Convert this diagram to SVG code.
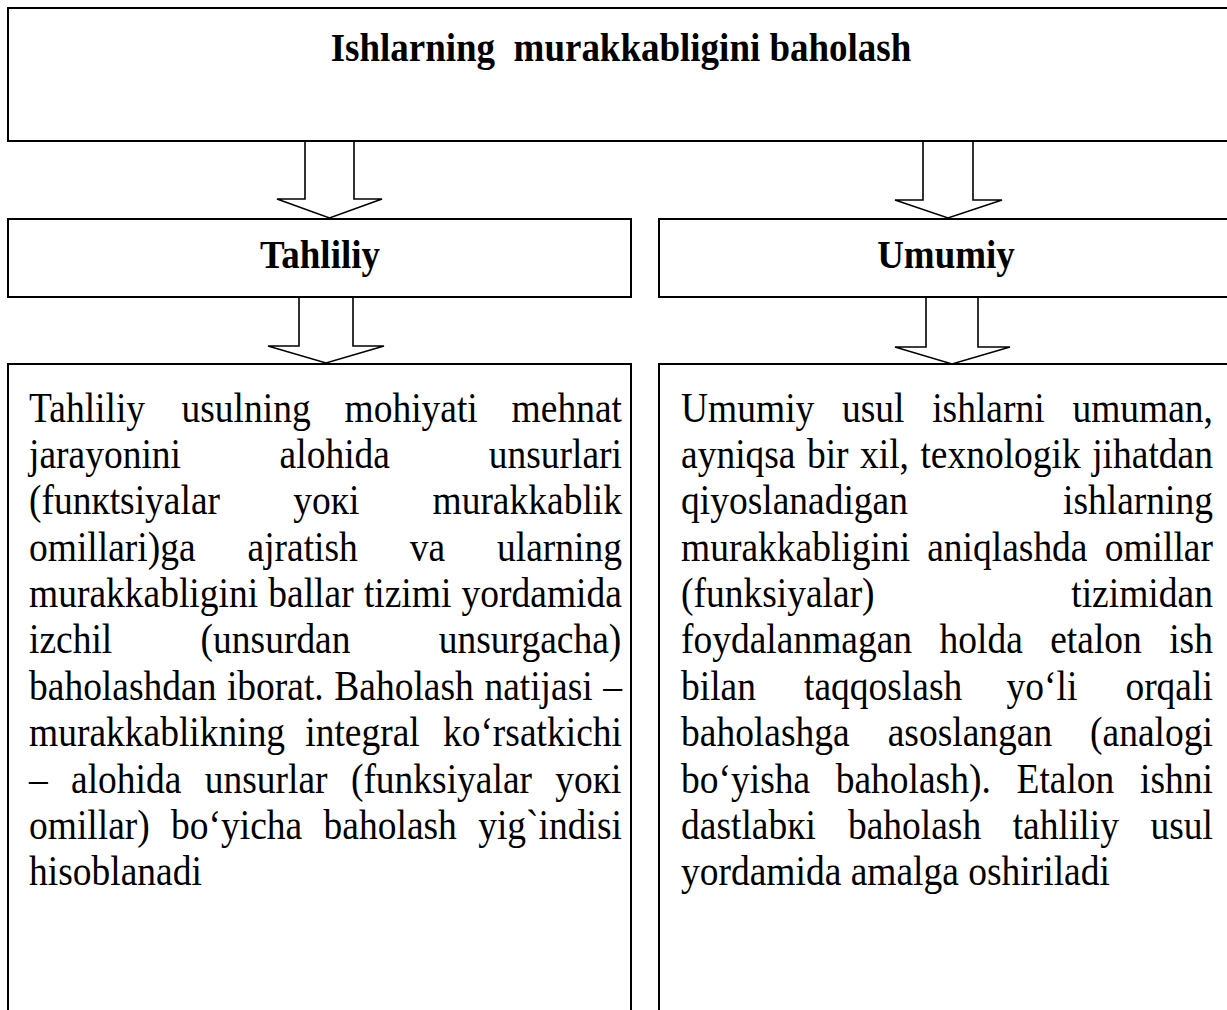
<svg xmlns="http://www.w3.org/2000/svg" width="1227" height="1010" viewBox="0 0 1227 1010">
  <style>
    .box { fill: #ffffff; stroke: #000000; stroke-width: 2; }
    .arrow { fill: #ffffff; stroke: #000000; stroke-width: 1.6; stroke-linejoin: miter; }
    .head { font-family: "Liberation Serif", "Times New Roman", serif; font-weight: bold; font-size: 37px; fill: #000000; }
    .body { font-family: "Liberation Serif", "Times New Roman", serif; font-size: 37.5px; fill: #000000; }
  </style>
  <rect width="1227" height="1010" fill="#ffffff"/>

  <!-- top node; text is drawn slightly condensed (taller than wide) via a vertical scale -->
  <g id="node-root">
    <rect class="box" x="8" y="8" width="1232" height="133"/>
    <text class="head" transform="scale(1,1.1)" x="621" y="55.6" text-anchor="middle" style="white-space:pre">Ishlarning  murakkabligini baholash</text>
  </g>

  <!-- method headers -->
  <g id="node-tahliliy">
    <rect class="box" x="8" y="219" width="623" height="78"/>
    <text class="head" transform="scale(1,1.1)" x="320" y="243.8" text-anchor="middle">Tahliliy</text>
  </g>
  <g id="node-umumiy">
    <rect class="box" x="659" y="219" width="582" height="78"/>
    <text class="head" transform="scale(1,1.1)" x="946" y="243.8" text-anchor="middle">Umumiy</text>
  </g>

  <!-- description of the analytical method (justified lines) -->
  <g id="node-tahliliy-text">
    <rect class="box" x="8" y="364" width="623" height="660"/>
    <text class="body" transform="scale(1,1.1)">
      <tspan x="29" y="383.2">Tahliliy</tspan><tspan x="181.5" y="383.2">usulning</tspan><tspan x="344.5" y="383.2">mohiyati</tspan><tspan x="511.6" y="383.2">mehnat</tspan>
      <tspan x="29" y="425.4">jarayonini</tspan><tspan x="279.6" y="425.4">alohida</tspan><tspan x="488.7" y="425.4">unsurlari</tspan>
      <tspan x="29" y="467.6">(funкtsiyalar</tspan><tspan x="293.2" y="467.6">yoкi</tspan><tspan x="432.5" y="467.6">murakkablik</tspan>
      <tspan x="29" y="509.8">omillari)ga</tspan><tspan x="247.5" y="509.8">ajratish</tspan><tspan x="409.8" y="509.8">va</tspan><tspan x="497" y="509.8">ularning</tspan>
      <tspan x="29" y="552">murakkabligini</tspan><tspan x="268.3" y="552">ballar</tspan><tspan x="363.9" y="552">tizimi</tspan><tspan x="461.6" y="552">yordamida</tspan>
      <tspan x="29" y="594.1">izchil</tspan><tspan x="200.6" y="594.1">(unsurdan</tspan><tspan x="438.8" y="594.1">unsurgacha)</tspan>
      <tspan x="29" y="636.3">baholashdan</tspan><tspan x="226.9" y="636.3">iborat.</tspan><tspan x="334.3" y="636.3">Baholash</tspan><tspan x="484.4" y="636.3">natijasi</tspan><tspan x="603.2" y="636.3">–</tspan>
      <tspan x="29" y="678.5">murakkablikning</tspan><tspan x="305.3" y="678.5">integral</tspan><tspan x="442.9" y="678.5">ko‘rsatkichi</tspan>
      <tspan x="29" y="720.7">–</tspan><tspan x="71" y="720.7">alohida</tspan><tspan x="204.7" y="720.7">unsurlar</tspan><tspan x="350.9" y="720.7">(funksiyalar</tspan><tspan x="555.3" y="720.7">yoкi</tspan>
      <tspan x="29" y="762.9">omillar)</tspan><tspan x="171.1" y="762.9">bo‘yicha</tspan><tspan x="323.6" y="762.9">baholash</tspan><tspan x="478.2" y="762.9">yig`indisi</tspan>
      <tspan x="29" y="805">hisoblanadi</tspan>
    </text>
  </g>

  <!-- description of the general method (justified lines) -->
  <g id="node-umumiy-text">
    <rect class="box" x="659" y="364" width="582" height="660"/>
    <text class="body" transform="scale(1,1.1)">
      <tspan x="681" y="383.2">Umumiy</tspan><tspan x="842" y="383.2">usul</tspan><tspan x="932.2" y="383.2">ishlarni</tspan><tspan x="1072.4" y="383.2">umuman,</tspan>
      <tspan x="681" y="425.4">ayniqsa</tspan><tspan x="806.9" y="425.4">bir</tspan><tspan x="860" y="425.4">xil,</tspan><tspan x="920.4" y="425.4">texnologik</tspan><tspan x="1092.2" y="425.4">jihatdan</tspan>
      <tspan x="681" y="467.6">qiyoslanadigan</tspan><tspan x="1063" y="467.6">ishlarning</tspan>
      <tspan x="681" y="509.8">murakkabligini</tspan><tspan x="927.2" y="509.8">aniqlashda</tspan><tspan x="1104.7" y="509.8">omillar</tspan>
      <tspan x="681" y="552">(funksiyalar)</tspan><tspan x="1071.3" y="552">tizimidan</tspan>
      <tspan x="681" y="594.1">foydalanmagan</tspan><tspan x="939.5" y="594.1">holda</tspan><tspan x="1050.2" y="594.1">etalon</tspan><tspan x="1169.2" y="594.1">ish</tspan>
      <tspan x="681" y="636.3">bilan</tspan><tspan x="804" y="636.3">taqqoslash</tspan><tspan x="1006.6" y="636.3">yo‘li</tspan><tspan x="1125.4" y="636.3">orqali</tspan>
      <tspan x="681" y="678.5">baholashga</tspan><tspan x="887.7" y="678.5">asoslangan</tspan><tspan x="1090.1" y="678.5">(analogi</tspan>
      <tspan x="681" y="720.7">bo‘yisha</tspan><tspan x="835.7" y="720.7">baholash).</tspan><tspan x="1016.5" y="720.7">Etalon</tspan><tspan x="1140" y="720.7">ishni</tspan>
      <tspan x="681" y="762.9">dastlabкi</tspan><tspan x="847.9" y="762.9">baholash</tspan><tspan x="1012.7" y="762.9">tahliliy</tspan><tspan x="1150.4" y="762.9">usul</tspan>
      <tspan x="681" y="805">yordamida amalga oshiriladi</tspan>
    </text>
  </g>

  <!-- block arrows -->
  <g id="connectors">
    <path class="arrow" d="M305,142 V199 H277 L329.5,218 L382,199 H354 V142"/>
    <path class="arrow" d="M923,142 V200 H895 L948,218 L1002,200 H973 V142"/>
    <path class="arrow" d="M299,298 V346 H268 L326,363 L384,346 H353 V298"/>
    <path class="arrow" d="M926,298 V347 H895 L952,364 L1010,347 H978 V298"/>
  </g>
</svg>
